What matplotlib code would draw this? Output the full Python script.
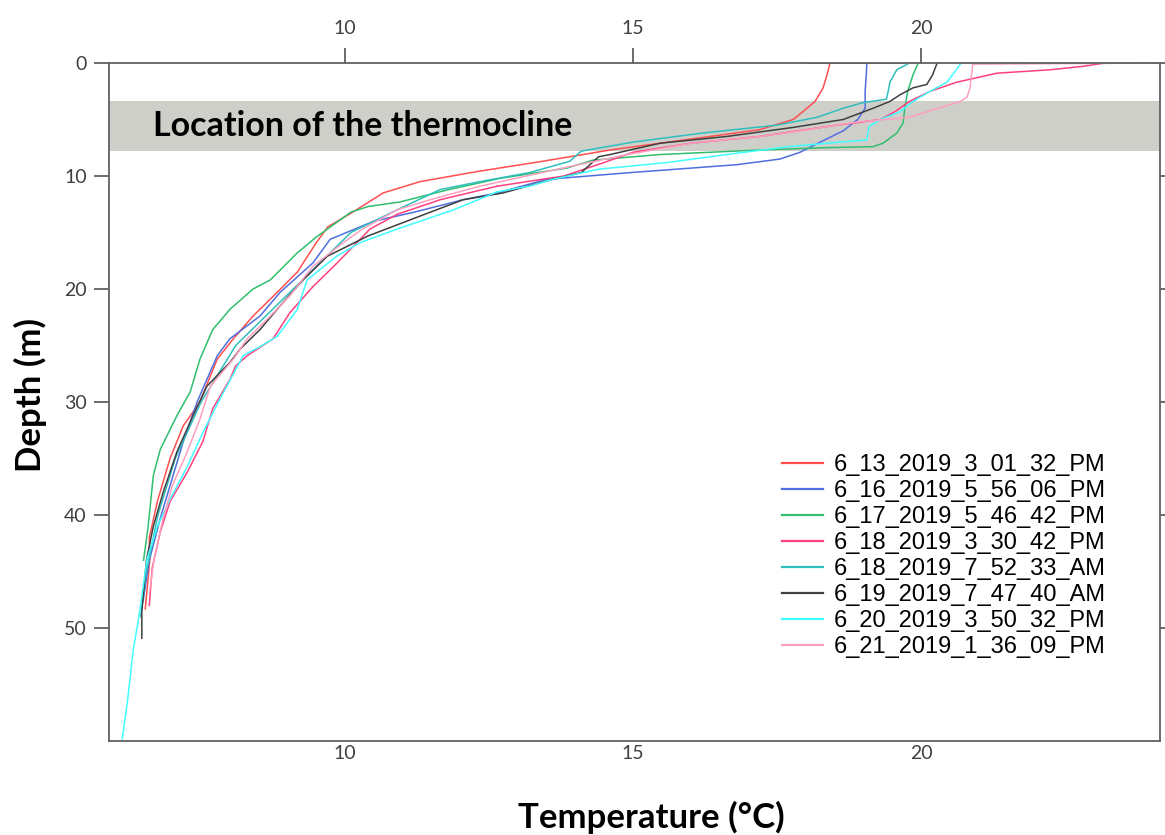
import matplotlib
matplotlib.use('Agg')
import matplotlib.pyplot as plt

labels = ["6_13_2019_3_01_32_PM", "6_16_2019_5_56_06_PM", "6_17_2019_5_46_42_PM",
          "6_18_2019_3_30_42_PM", "6_18_2019_7_52_33_AM", "6_19_2019_7_47_40_AM",
          "6_20_2019_3_50_32_PM", "6_21_2019_1_36_09_PM"]
colors = ['#ff4f4f', '#4f6fdf', '#2fbf6f', '#ff3f7f', '#2fbfbf', '#3f3f3f', '#3fffff', '#ff9fbf']

# 6_13 3:01 PM
red_depth = [0, 0, 1.0, 2.2, 3.4, 4.3, 5.0, 5.9, 6.5, 7.1, 7.7, 8.3, 8.8, 9.6, 10.5, 11.5, 13.3, 14.5,
             15.9, 18.5, 20.3, 22.4, 24.4, 26.2, 27.7, 30.0, 32.1, 35.0, 38.8, 42.0, 43.9, 48.3]
red_temp = [19.7, 18.42, 18.37, 18.3, 18.16, 17.95, 17.78, 17.2, 16.34, 15.47, 14.6, 13.9, 13.3, 12.3,
            11.3, 10.66, 10.1, 9.7, 9.5, 9.17, 8.82, 8.4, 8.06, 7.78, 7.66, 7.48, 7.19, 6.96, 6.74,
            6.6, 6.61, 6.53]

# 6_16 5:56 PM
blue_depth = [0, 0, 1.0, 2.5, 4.0, 5.0, 6.0, 7.0, 7.9, 8.5, 9.0, 9.7, 10.3, 11.5, 12.1, 13.2, 14.0,
              15.6, 17.7, 20.3, 22.4, 24.4, 25.9, 28.0, 30.0, 33.5, 37.4, 40.3, 44.0, 47.7]
blue_temp = [18.04, 19.06, 19.05, 19.03, 19.03, 18.9, 18.65, 18.25, 17.9, 17.55, 16.8, 14.95, 13.5,
             12.64, 12.05, 11.2, 10.5, 9.74, 9.44, 8.87, 8.52, 8.0, 7.78, 7.6, 7.43, 7.19, 6.96,
             6.79, 6.6, 6.49]

# 6_17 5:46 PM
green_depth = [0, 1.06, 2.5, 3.9, 5.3, 6.2, 7.1, 7.4, 7.5, 7.7, 8.1, 8.6, 9.3, 10.2, 11.2, 12.3,
               12.7, 13.2, 14.3, 15.4, 16.8, 19.2, 20.0, 21.8, 23.6, 26.2, 29.1, 31.2, 34.2, 36.5,
               41.0, 44.0]
green_temp = [19.95, 19.86, 19.77, 19.72, 19.69, 19.58, 19.34, 19.17, 18.3, 17.2, 15.47, 14.3, 13.85,
              12.7, 11.8, 10.95, 10.4, 10.1, 9.8, 9.5, 9.17, 8.7, 8.4, 8.0, 7.7, 7.48, 7.31, 7.08,
              6.79, 6.67, 6.58, 6.5]

# 6_18 3:30 PM
dpink_depth = [0, 0.3, 0.6, 0.9, 1.7, 2.5, 3.4, 4.3, 5.0, 5.6, 6.5, 7.1, 7.9, 8.8, 10.0, 10.9, 12.1,
               13.4, 14.7, 15.4, 17.7, 19.8, 22.1, 24.4, 25.9, 26.8, 28.0, 30.6, 33.5, 36.2, 38.8,
               41.5, 44.7, 48.0]
dpink_temp = [23.2, 22.8, 22.24, 21.32, 20.62, 20.16, 19.8, 19.55, 19.3, 18.4, 17.2, 16.0, 15.0, 14.5,
              13.8, 12.64, 11.65, 10.9, 10.43, 10.3, 9.86, 9.44, 9.04, 8.75, 8.3, 8.1, 8.0, 7.7,
              7.53, 7.26, 6.96, 6.79, 6.65, 6.6]

# 6_18 7:52 AM
teal_depth = [0, 0.6, 1.7, 2.5, 3.2, 3.5, 4.0, 4.8, 5.5, 6.2, 7.0, 7.8, 8.7, 9.7, 10.5, 11.2, 13.0,
              15.0, 17.5, 20.0, 22.5, 25.0, 27.5, 30.0, 35.0, 40.0, 45.0, 49.0]
teal_temp = [19.8, 19.58, 19.46, 19.43, 19.4, 19.0, 18.65, 18.2, 17.5, 16.2, 15.0, 14.1, 13.9, 13.2,
             12.34, 11.65, 10.9, 10.1, 9.6, 9.1, 8.6, 8.1, 7.8, 7.5, 7.05, 6.75, 6.55, 6.45]

# 6_19 7:47 AM
black_depth = [0, 1.06, 1.9, 2.2, 2.8, 3.4, 4.0, 5.0, 5.7, 6.5, 7.1, 8.1, 8.3, 9.7, 10.3, 11.5, 12.1,
               13.2, 15.3, 17.1, 19.2, 21.5, 23.6, 25.3, 26.5, 28.6, 31.2, 34.4, 38.0, 41.0, 44.0,
               48.5, 50.9]
black_temp = [20.28, 20.2, 20.1, 19.86, 19.64, 19.46, 19.17, 18.65, 17.78, 16.63, 15.47, 14.6, 14.4,
              14.1, 13.6, 12.74, 12.05, 11.48, 10.4, 9.69, 9.27, 8.87, 8.52, 8.18, 8.0, 7.6, 7.36,
              7.08, 6.84, 6.67, 6.55, 6.47, 6.47]

# 6_20 3:50 PM
cyan_depth = [0, 1.7, 2.5, 3.4, 4.3, 5.0, 5.6, 6.8, 7.4, 8.1, 8.8, 9.4, 10.3, 10.9, 11.4, 13.0, 14.7,
              15.9, 17.1, 19.2, 21.8, 24.2, 25.1, 25.9, 29.7, 32.7, 35.7, 38.6, 41.0, 43.9, 48.3,
              52.0, 56.5, 59.8]
cyan_temp = [20.7, 20.45, 20.16, 19.86, 19.64, 19.3, 19.1, 19.06, 17.7, 16.63, 15.6, 14.4, 13.6,
             13.2, 12.64, 11.88, 10.9, 10.26, 9.85, 9.34, 9.17, 8.82, 8.52, 8.23, 7.83, 7.53, 7.26,
             6.96, 6.74, 6.56, 6.44, 6.32, 6.22, 6.13]

# 6_21 1:36 PM
lpink_depth = [0, 0.1, 2.2, 3.0, 3.4, 4.0, 4.8, 5.2, 5.6, 6.1, 6.5, 7.1, 8.1, 9.2, 10.9, 12.1, 13.0,
               14.7, 15.9, 18.0, 20.6, 22.4, 24.4, 26.2, 28.6, 31.5, 34.4, 37.4, 40.3, 44.0, 47.0]
lpink_temp = [24.2, 20.9, 20.85, 20.8, 20.68, 20.3, 19.8, 18.94, 18.4, 17.78, 17.2, 16.0, 14.9, 13.87,
              12.34, 11.48, 10.9, 10.3, 9.97, 9.44, 9.04, 8.7, 8.3, 8.06, 7.66, 7.48, 7.26, 7.0,
              6.84, 6.68, 6.6]

depths = [red_depth, blue_depth, green_depth, dpink_depth, teal_depth, black_depth, cyan_depth, lpink_depth]
temps = [red_temp, blue_temp, green_temp, dpink_temp, teal_temp, black_temp, cyan_temp, lpink_temp]

x_ticks = [10, 15, 20]
y_ticks = [0, 10, 20, 30, 40, 50]
band = (3.4, 7.8)

W, H = 1165, 835
fig = plt.figure(figsize=(W / 100, H / 100), dpi=100)
L, R, T, B = 109, 1160, 63, 741
ax = fig.add_axes([L / W, 1 - B / H, (R - L) / W, (B - T) / H])

ax.axhspan(band[0], band[1], color='#cfcfca', lw=0, zorder=0)
for d, t, c, lab in zip(depths, temps, colors, labels):
    ax.plot(t, d, color=c, lw=1.1, label=lab, zorder=2)

ax.text(6.66, 5.6, 'Location of the thermocline', fontweight='bold', fontsize=24.5,
        family='Lato', va='center', ha='left', color='black', zorder=3)

ax.set_xlim(5.9, 24.15)
ax.set_ylim(60, 0)
ax.set_xticks(x_ticks)
ax.set_yticks(y_ticks)

tick_col = '#606060'
lab_col = '#404040'
for s in ax.spines.values():
    s.set_color(tick_col)
    s.set_linewidth(1.3)

ax.tick_params(axis='y', left=True, right=True, direction='out', length=11, width=1.3,
               color=tick_col, labelcolor=lab_col, labelsize=14, pad=5)
ax.tick_params(axis='x', bottom=True, direction='in', length=0, color=tick_col,
               labelcolor=lab_col, labelsize=14, pad=3)
for lbl in ax.get_xticklabels() + ax.get_yticklabels():
    lbl.set_family('Lato')

sec = ax.secondary_xaxis('top')
sec.set_xticks(x_ticks)
sec.tick_params(axis='x', direction='out', length=11, width=1.3, color=tick_col,
                labelcolor=lab_col, labelsize=14, pad=8)
sec.spines['top'].set_visible(False)
for lbl in sec.get_xticklabels():
    lbl.set_family('Lato')

fig.text(651 / W, 1 - 817 / H, 'Temperature (°C)', fontweight='bold', fontsize=25,
         family='Lato', ha='center', va='center')
fig.text(30 / W, 1 - 395 / H, 'Depth (m)', fontweight='bold', fontsize=25,
         family='Lato', ha='center', va='center', rotation=90)

leg = ax.legend(loc='upper left', bbox_to_anchor=(770 / W, 1 - 442 / H),
                bbox_transform=fig.transFigure, frameon=False,
                prop={'family': 'Liberation Sans', 'size': 17},
                handlelength=1.75, handletextpad=0.45, labelspacing=0.17, borderpad=0)
for line in leg.get_lines():
    line.set_linewidth(1.6)

fig.savefig('out.png', dpi=100)
